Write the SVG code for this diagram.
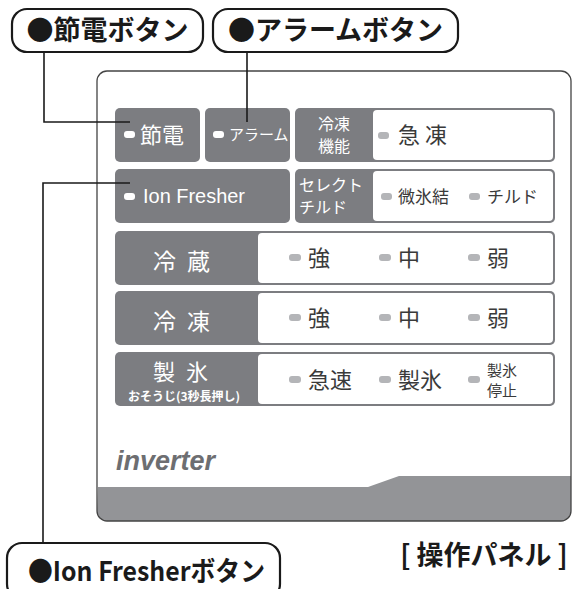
<svg xmlns="http://www.w3.org/2000/svg" width="574" height="589" viewBox="0 0 574 589">
<style>
text{font-family:"Noto Sans CJK JP","Liberation Sans",sans-serif;}
.call{fill:#fff;stroke:#1a1a1a;stroke-width:2.2}
.ct{font-weight:bold;font-size:27px;fill:#1a1a1a}
.lead{fill:none;stroke:#1a1a1a;stroke-width:1.6}
.dk{fill:#7c7d81}
.wh{fill:#fff}
.tw{fill:#fff}
.tg{fill:#3a3a3a}
.ledw{fill:#fff}
.ledg{fill:#b4b5b8}
</style>
<rect width="574" height="589" fill="#fff"/>
<g id="panel">
<path d="M107,71 H561 A10,10 0 0 1 571,81 V511 A10,10 0 0 1 561,521 H107 A10,10 0 0 1 97,511 V81 A10,10 0 0 1 107,71 Z" fill="#fff"/>
<path d="M98,487 H368 L399,476 H571 V511 A10,10 0 0 1 561,521 H107 A10,10 0 0 1 97,511 Z" fill="#939497"/>
<path d="M107,71 H561 A10,10 0 0 1 571,81 V511 A10,10 0 0 1 561,521 H107 A10,10 0 0 1 97,511 V81 A10,10 0 0 1 107,71 Z" fill="none" stroke="#444" stroke-width="1.3"/>
<text x="116" y="470" style="font-family:'Liberation Sans',sans-serif;font-style:italic;font-weight:bold;font-size:27px;fill:#6d6e71">inverter</text>
</g>
<g id="btn-setsuden">
<rect class="dk" x="115" y="108" width="85" height="54" rx="5"/>
<rect class="ledw" x="124" y="131" width="11" height="7" rx="3"/>
<text class="tw" x="140" y="143" font-size="22">節電</text>
</g>
<g id="btn-alarm">
<rect class="dk" x="205" y="108" width="85" height="54" rx="5"/>
<rect class="ledw" x="213" y="131" width="11" height="7" rx="3"/>
<text class="tw" x="229" y="140" font-size="15">アラーム</text>
</g>
<g id="btn-reitou-kinou">
<rect class="dk" x="295" y="108" width="260" height="54" rx="5"/>
<rect class="wh" x="373" y="110" width="180" height="50" rx="4"/>
<text class="tw" x="334" y="130" font-size="16" text-anchor="middle">冷凍</text>
<text class="tw" x="334" y="152" font-size="16" text-anchor="middle">機能</text>
<rect class="ledg" x="378" y="132" width="11" height="7" rx="3"/>
<text class="tg" x="398" y="143" font-size="22">急 凍</text>
</g>
<g id="btn-ionfresher">
<rect class="dk" x="115" y="169" width="175" height="54" rx="5"/>
<rect class="ledw" x="124" y="193" width="11" height="7" rx="3"/>
<text class="tw" x="143" y="203" font-size="21" style="font-family:'Liberation Sans',sans-serif" textLength="102" lengthAdjust="spacingAndGlyphs">Ion Fresher</text>
</g>
<g id="btn-select-chilled">
<rect class="dk" x="295" y="169" width="260" height="54" rx="5"/>
<rect class="wh" x="373" y="171" width="180" height="50" rx="4"/>
<text class="tw" x="299" y="191" font-size="16">セレクト</text>
<text class="tw" x="299" y="213" font-size="16">チルド</text>
<rect class="ledg" x="381" y="193" width="11" height="7" rx="3"/>
<text class="tg" x="398" y="203" font-size="17">微氷結</text>
<rect class="ledg" x="469" y="193" width="11" height="7" rx="3"/>
<text class="tg" x="487" y="203" font-size="17">チルド</text>
</g>
<g id="row-reizou">
<rect class="dk" x="115" y="231" width="440" height="54" rx="5"/>
<rect class="wh" x="258" y="233" width="295" height="50" rx="4"/>
<text class="tw" x="183" y="270" font-size="23" text-anchor="middle" letter-spacing="3">冷 蔵</text>
<rect class="ledg" x="289" y="254" width="12" height="7" rx="3"/>
<text class="tg" x="308" y="266" font-size="22">強</text>
<rect class="ledg" x="379" y="254" width="12" height="7" rx="3"/>
<text class="tg" x="398" y="266" font-size="22">中</text>
<rect class="ledg" x="468" y="254" width="12" height="7" rx="3"/>
<text class="tg" x="487" y="266" font-size="22">弱</text>
</g>
<g id="row-reitou">
<rect class="dk" x="115" y="291" width="440" height="54" rx="5"/>
<rect class="wh" x="258" y="293" width="295" height="50" rx="4"/>
<text class="tw" x="183" y="330" font-size="23" text-anchor="middle" letter-spacing="3">冷 凍</text>
<rect class="ledg" x="289" y="314" width="12" height="7" rx="3"/>
<text class="tg" x="308" y="326" font-size="22">強</text>
<rect class="ledg" x="379" y="314" width="12" height="7" rx="3"/>
<text class="tg" x="398" y="326" font-size="22">中</text>
<rect class="ledg" x="468" y="314" width="12" height="7" rx="3"/>
<text class="tg" x="487" y="326" font-size="22">弱</text>
</g>
<g id="row-seihyou">
<rect class="dk" x="115" y="352" width="440" height="54" rx="5"/>
<rect class="wh" x="258" y="354" width="295" height="50" rx="4"/>
<text class="tw" x="182" y="380" font-size="22" text-anchor="middle" letter-spacing="3">製 氷</text>
<text class="tw" x="184" y="401" font-size="12" font-weight="bold" text-anchor="middle">おそうじ(3秒長押し)</text>
<rect class="ledg" x="289" y="376" width="12" height="7" rx="3"/>
<text class="tg" x="308" y="388" font-size="22">急速</text>
<rect class="ledg" x="379" y="376" width="12" height="7" rx="3"/>
<text class="tg" x="398" y="388" font-size="22">製氷</text>
<rect class="ledg" x="468" y="376" width="12" height="7" rx="3"/>
<text class="tg" x="487" y="376" font-size="15">製氷</text>
<text class="tg" x="487" y="396" font-size="15">停止</text>
</g>
<g id="connectors">
<polyline class="lead" points="44,52 44,122 130,122"/>
<polyline class="lead" points="247,52 247,122"/>
<polyline class="lead" points="130,183 43,183 43,543"/>
</g>
<g id="callout-setsuden">
<rect class="call" x="12" y="9" width="191" height="43" rx="15"/>
<text class="ct" x="107.5" y="40" text-anchor="middle">●節電ボタン</text>
</g>
<g id="callout-alarm">
<rect class="call" x="213" y="9" width="245" height="43" rx="15"/>
<text class="ct" x="335.5" y="40" text-anchor="middle">●アラームボタン</text>
</g>
<g id="callout-ionfresher">
<rect class="call" x="7" y="543" width="273" height="56" rx="15"/>
<text class="ct" x="28" y="581" textLength="237" lengthAdjust="spacingAndGlyphs">●Ion Fresherボタン</text>
</g>
<g id="caption">
<text class="ct" x="484" y="565" text-anchor="middle">[ 操作パネル ]</text>
</g>
</svg>
